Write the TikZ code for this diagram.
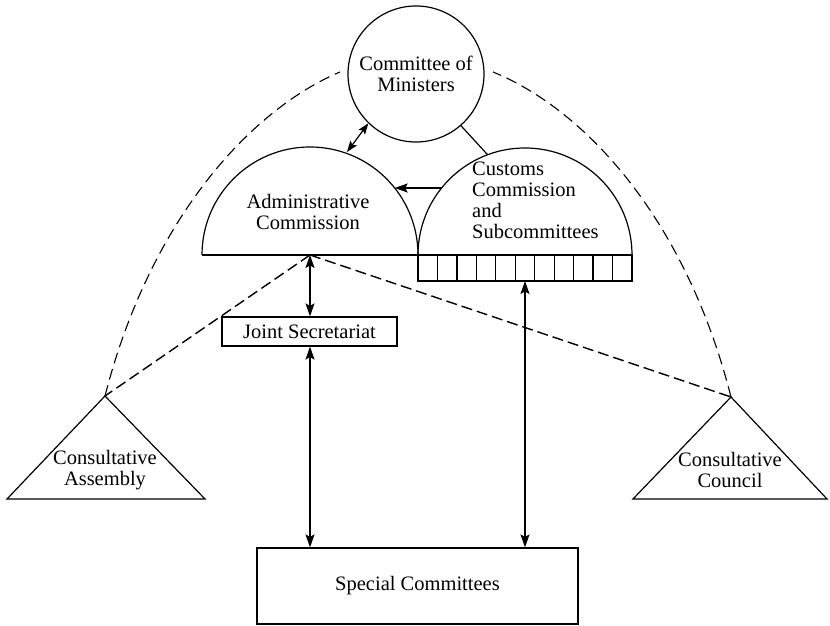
\documentclass[tikz,border=0pt]{standalone}
\usepackage{fontspec}
\setmainfont{Liberation Serif}
\usetikzlibrary{arrows.meta,shapes.geometric}
\tikzset{
  ln/.style={line width=1.2pt},
  tip/.style={},
  arr/.style={ln,-{Stealth[length=13pt,width=9pt,inset=2.5pt]}},
  darr/.style={ln,{Stealth[length=13pt,width=9pt,inset=2.5pt]}-{Stealth[length=13pt,width=9pt,inset=2.5pt]}},
  sdarr/.style={ln,{Stealth[length=11pt,width=8pt,inset=2pt]}-{Stealth[length=11pt,width=8pt,inset=2pt]}},
  dsh/.style={line width=1.4pt,dash pattern=on 11pt off 5pt},
  dsharc/.style={line width=1.1pt,dash pattern=on 11pt off 6pt},
  txt/.style={font=\fontsize{20.5}{21}\selectfont,align=center,inner sep=0pt},
  box/.style={draw,ln,inner sep=0pt,font=\fontsize{20.5}{21}\selectfont}
}
\begin{document}
\begin{tikzpicture}[x=1pt,y=1pt]
\useasboundingbox (0,0) rectangle (830,626);
% Committee of Ministers
\node[draw,ln,circle,minimum size=136pt,inner sep=0pt,txt] (cm) at (416,552) {Committee of\\Ministers};
% semicircles
\coordinate (adm) at (310,371);
\coordinate (cus) at (525,371);
\draw[ln] (202,371) arc[start angle=180,end angle=0,radius=108];
\draw[ln] (418,371) arc[start angle=180,end angle=0,radius=107];
\draw[ln] (202,371) -- (632,371);
\node[txt] (admt) at (308,414) {Administrative\\Commission};
\node[txt,anchor=west,align=left] (cust) at (472,426) {Customs\\Commission\\and\\Subcommittees};
% cells
\draw[ln] (418,371) rectangle (632,345);
\foreach \k in {1,...,10} {\draw[ln] ({418+\k*214/11},371) -- ({418+\k*214/11},345);}
\coordinate (cellsb) at (525,345);
% Joint Secretariat
\node[box,minimum width=175pt,minimum height=29pt] (js) at (309.5,294.5) {Joint Secretariat};
% Special Committees
\node[box,minimum width=321pt,minimum height=76pt] (sc) at (417.5,40) {Special Committees};
% triangles
\coordinate (la) at (105,230);
\coordinate (ra) at (731,229);
\draw[ln,line join=miter] (la) -- (7,127) -- (205,127) -- cycle;
\draw[ln,line join=miter] (ra) -- (633,127) -- (827,127) -- cycle;
\node[txt] (cat) at (105,156) {Consultative\\Assembly};
\node[txt] (cct) at (730,156) {Consultative\\Council};
% connectors
\coordinate (admtop) at (347,474);
\coordinate (custop) at (487.4,471.5);
\draw[sdarr] (cm.226.7) -- (admtop);
\draw[ln] (cm.311.5) -- (custop);
\coordinate (hs) at (440.6,438);
\coordinate (he) at (394.7,438);
\draw[arr] (hs) -- (he);
\draw[darr] (adm) -- (js.north -| adm);
\draw[darr] (js.south -| adm) -- (sc.north -| adm);
\draw[darr] (cellsb) -- (sc.north -| cellsb);
% dashed
\draw[dsh] (adm) -- (la);
\draw[dsh] (adm) -- (ra);
\draw[dsharc] (la) .. controls (150,406) and (250,516) .. (340,554);
\draw[dsharc] (ra) .. controls (686,406) and (586,516) .. (493,554);
\end{tikzpicture}
\end{document}
